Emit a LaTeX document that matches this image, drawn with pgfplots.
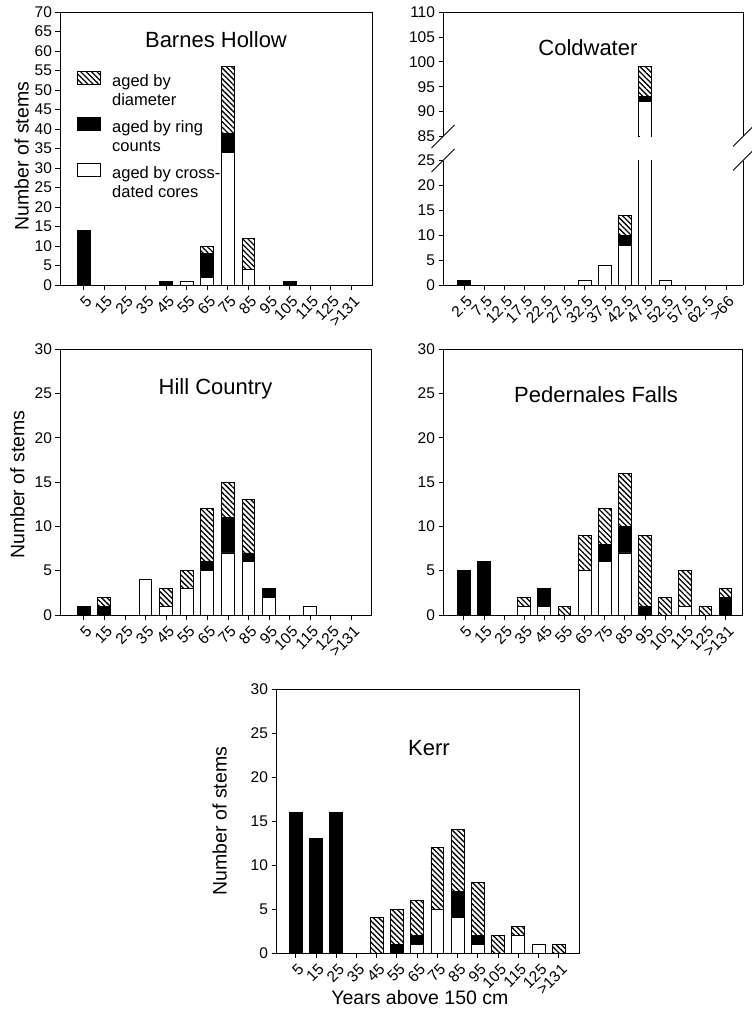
\documentclass[border=0pt]{standalone}
\usepackage{pgfplots}
\pgfplotsset{compat=1.18}
\usepackage{pgfplotstable}
\usetikzlibrary{patterns.meta}
\usepackage{fontspec}
\setmainfont{Liberation Sans}

\newcommand\tickfont{\fontsize{15.5}{18}\selectfont}
\newcommand\labfont{\fontsize{19.5}{22}\selectfont}
\newcommand\titfont{\fontsize{22}{26}\selectfont}
\newcommand\legfont{\fontsize{16.5}{19}\selectfont}

\pgfplotstableread{
x cross ring diam
0 0 14 0
1 0 0 0
2 0 0 0
3 0 0 0
4 0 1 0
5 1 0 0
6 2 6 2
7 34 5 17
8 4 0 8
9 0 0 0
10 0 1 0
11 0 0 0
12 0 0 0
13 0 0 0
}\barnes

\pgfplotstableread{
x cross ring diam
0 0 1 0
1 0 0 0
2 0 0 0
3 0 0 0
4 0 0 0
5 0 0 0
6 1 0 0
7 4 0 0
8 8 2 4
9 92 1 6
10 1 0 0
11 0 0 0
12 0 0 0
13 0 0 0
}\coldwater

\pgfplotstableread{
x cross ring diam
0 0 1 0
1 0 1 1
2 0 0 0
3 4 0 0
4 1 0 2
5 3 0 2
6 5 1 6
7 7 4 4
8 6 1 6
9 2 1 0
10 0 0 0
11 1 0 0
12 0 0 0
13 0 0 0
}\hill

\pgfplotstableread{
x cross ring diam
0 0 5 0
1 0 6 0
2 0 0 0
3 1 0 1
4 1 2 0
5 0 0 1
6 5 0 4
7 6 2 4
8 7 3 6
9 0 1 8
10 0 0 2
11 1 0 4
12 0 0 1
13 0 2 1
}\pedernales

\pgfplotstableread{
x cross ring diam
0 0 16 0
1 0 13 0
2 0 16 0
3 0 0 0
4 0 0 4
5 0 1 4
6 1 1 4
7 5 0 7
8 4 3 7
9 1 1 6
10 0 0 2
11 2 0 1
12 1 0 0
13 0 0 1
}\kerr

\pgfplotsset{
  hist/.style={
    scale only axis,
    ybar stacked,
    bar width=12.8pt,
    ymin=0,
    xtick={0,...,13},
    tick align=outside,
    xtick pos=bottom, ytick pos=left,
    major tick length=4.5pt,
    tick style={black, line width=0.7pt},
    axis line style={black, line width=0.7pt},
    every tick label/.append style={font=\tickfont},
    /pgf/number format/assume math mode=true,
    xticklabel style={yshift=-4pt, xshift=1.5pt, rotate=45, anchor=north east, inner sep=1pt},
    ylabel style={font=\labfont, inner sep=0pt},
    legend image code/.code={\draw[##1] (0pt,6.5pt) rectangle (23pt,19.5pt);},
  },
  agecross/.style={fill=white, draw=black, line width=0.8pt},
  agering/.style={fill=black, draw=black, line width=0.8pt},
  agediam/.style={pattern={Lines[angle=-45,distance=3.8pt,line width=1.3pt]}, draw=black, line width=0.8pt},
}

\begin{document}
\begin{tikzpicture}
\useasboundingbox (0,0) rectangle (752pt,-1012pt);

% Barnes Hollow
\begin{axis}[hist, at={(60pt,-12pt)}, anchor=north west, width=312pt, height=273pt,
  xmin=-1.15, xmax=14, ymax=70, ytick={0,5,...,70},
  xticklabels={5,15,25,35,45,55,65,75,85,95,105,115,125,>131},
  ylabel={Number of stems}, ylabel style={at={(axis description cs:-0.099,0.4725)}},
  reverse legend,
  legend cell align=left,
  legend style={at={(0.055,0.786)}, anchor=north west, draw=none, fill=none, font=\legfont,
    cells={align=left}, row sep=8pt, column sep=9pt, inner sep=0pt},
  legend entries={{aged by cross-\\dated cores},{aged by ring\\counts},{aged by\\diameter}}]
\addplot[agecross] table[x=x,y=cross]{\barnes};
\addplot[agering] table[x=x,y=ring]{\barnes};
\addplot[agediam] table[x=x,y=diam]{\barnes};
\node[font=\titfont] at (rel axis cs:0.5,0.897) {Barnes Hollow};
\end{axis}

% Coldwater upper
\begin{axis}[hist, at={(443pt,-12pt)}, anchor=north west, width=300pt, height=124.5pt,
  xmin=-1.04, xmax=13.85, ymin=85, ymax=110, ytick={85,90,...,110},
  xtick=\empty, separate axis lines, x axis line style={draw=none},
  restrict x to domain=8.5:9.5]
\addplot[agecross] table[x=x,y=cross]{\coldwater};
\addplot[agering] table[x=x,y=ring]{\coldwater};
\addplot[agediam] table[x=x,y=diam]{\coldwater};
\node[font=\titfont] at (rel axis cs:0.483,0.71) {Coldwater};
\end{axis}
% open the broken bar at the lower edge of the upper part
\fill[white] (640pt,-135.2pt) rectangle (650.6pt,-138.5pt);
% Coldwater lower
\begin{axis}[hist, at={(443pt,-160.5pt)}, anchor=north west, width=300pt, height=124.5pt,
  xmin=-1.04, xmax=13.85, ymax=25, ytick={0,5,...,25},
  xticklabels={2.5,7.5,12.5,17.5,22.5,27.5,32.5,37.5,42.5,47.5,52.5,57.5,62.5,>66},
  separate axis lines, x axis line style={draw=none}]
\addplot[agecross] table[x=x,y=cross]{\coldwater};
\addplot[agering] table[x=x,y=ring]{\coldwater};
\addplot[agediam] table[x=x,y=diam]{\coldwater};
\end{axis}
\draw[line width=0.7pt] (443pt,-12pt) -- (743pt,-12pt);
\draw[line width=0.7pt] (443pt,-285pt) -- (743pt,-285pt);
\foreach \yy in {136.5,160.5}{
  \draw[line width=0.8pt] (431.5pt,-\yy pt-11.5pt) -- (454.5pt,-\yy pt+11.5pt);
  \draw[line width=0.8pt] (733pt,-\yy pt-10pt) -- (753pt,-\yy pt+10pt);
}

% Hill Country
\begin{axis}[hist, at={(60pt,-349pt)}, anchor=north west, width=311pt, height=266pt,
  xmin=-1.15, xmax=13.95, ymax=30, ytick={0,5,...,30},
  xticklabels={5,15,25,35,45,55,65,75,85,95,105,115,125,>131},
  ylabel={Number of stems}, ylabel style={at={(axis description cs:-0.113,0.49)}}]
\addplot[agecross] table[x=x,y=cross]{\hill};
\addplot[agering] table[x=x,y=ring]{\hill};
\addplot[agediam] table[x=x,y=diam]{\hill};
\node[font=\titfont] at (rel axis cs:0.5,0.85) {Hill Country};
\end{axis}

% Pedernales Falls
\begin{axis}[hist, at={(443pt,-349pt)}, anchor=north west, width=299pt, height=266pt,
  xmin=-1.03, xmax=13.82, ymax=30, ytick={0,5,...,30},
  xticklabels={5,15,25,35,45,55,65,75,85,95,105,115,125,>131}]
\addplot[agecross] table[x=x,y=cross]{\pedernales};
\addplot[agering] table[x=x,y=ring]{\pedernales};
\addplot[agediam] table[x=x,y=diam]{\pedernales};
\node[font=\titfont] at (rel axis cs:0.512,0.827) {Pedernales Falls};
\end{axis}

% Kerr
\begin{axis}[hist, at={(276pt,-689pt)}, anchor=north west, width=303pt, height=264pt,
  xmin=-0.97, xmax=14.0, ymax=30, ytick={0,5,...,30},
  xticklabels={5,15,25,35,45,55,65,75,85,95,105,115,125,>131},
  ylabel={Number of stems}, ylabel style={at={(axis description cs:-0.162,0.5)}},
  xlabel={Years above 150 cm}, xlabel style={font=\labfont, at={(axis description cs:0.475,-0.17)}, anchor=center}]
\addplot[agecross] table[x=x,y=cross]{\kerr};
\addplot[agering] table[x=x,y=ring]{\kerr};
\addplot[agediam] table[x=x,y=diam]{\kerr};
\node[font=\titfont] at (rel axis cs:0.505,0.777) {Kerr};
\end{axis}
\end{tikzpicture}
\end{document}
